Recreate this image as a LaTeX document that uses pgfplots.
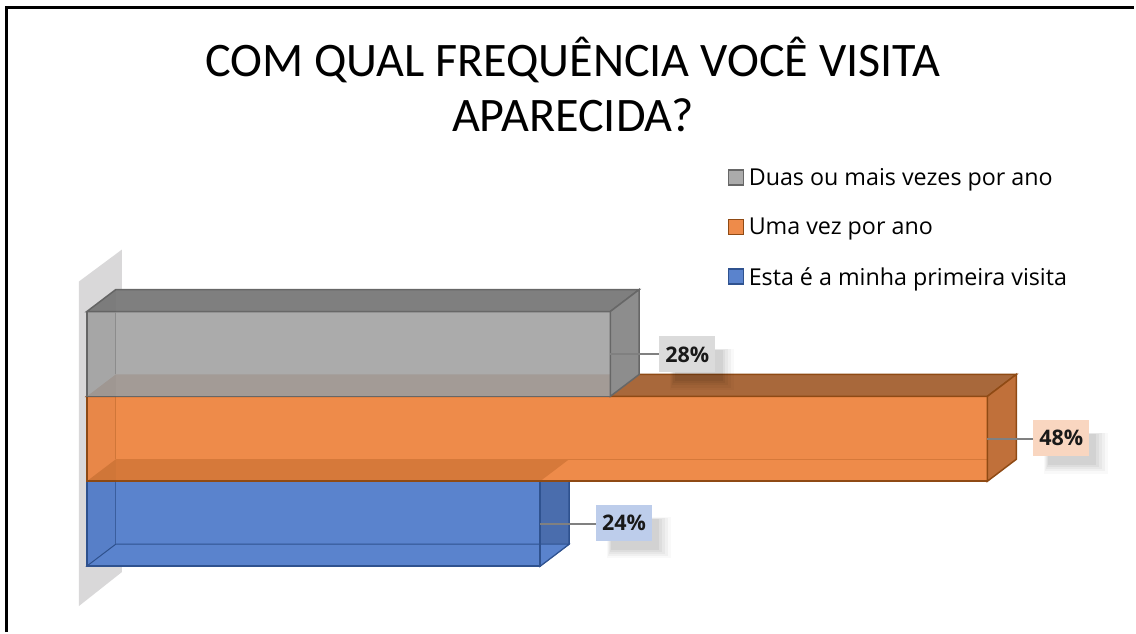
\documentclass[border=0pt]{standalone}
\usepackage{pgfplots}
\pgfplotsset{compat=1.18}
\usepackage{fontspec}
\setmainfont{Open Sans}
\newfontfamily\titlefont{Carlito}
\usetikzlibrary{shadows}
\definecolor{grayF}{HTML}{ABABAB}
\definecolor{grayT}{HTML}{7F7F7F}
\definecolor{grayS}{HTML}{8D8D8D}
\definecolor{grayB}{HTML}{A39B96}
\definecolor{grayE}{HTML}{676767}
\definecolor{oraF}{HTML}{EE8B4A}
\definecolor{oraT}{HTML}{A8683B}
\definecolor{oraS}{HTML}{C0703A}
\definecolor{oraB}{HTML}{D6793A}
\definecolor{oraE}{HTML}{8F4A14}
\definecolor{bluF}{HTML}{5A83CD}
\definecolor{bluS}{HTML}{4A6DAD}
\definecolor{bluE}{HTML}{2F528F}
\definecolor{wallc}{HTML}{D9D8D9}
\tikzset{lab/.style={font=\fontsize{21.5}{21.5}\selectfont\bfseries,text=black!90,minimum width=56pt,minimum height=36pt,inner sep=0pt,
  drop shadow={shadow xshift=13pt,shadow yshift=-13pt,shadow scale=1.14,opacity=.025,fill=black},
  drop shadow={shadow xshift=13pt,shadow yshift=-13pt,shadow scale=1.07,opacity=.035,fill=black},
  drop shadow={shadow xshift=13pt,shadow yshift=-13pt,shadow scale=1.0,opacity=.04,fill=black},
  drop shadow={shadow xshift=13pt,shadow yshift=-13pt,shadow scale=.93,opacity=.045,fill=black},
  drop shadow={shadow xshift=13pt,shadow yshift=-13pt,shadow scale=.86,opacity=.05,fill=black}}}
\pgfplotsset{sq/.style={legend image code/.code={\draw[##1,line width=1.4pt] (0,-7pt) rectangle (15pt,8pt);}}}
\begin{document}
\begin{tikzpicture}
\begin{axis}[
  scale only axis, width=1136pt, height=633pt,
  xmin=-4.630, xmax=55.83, ymin=-1.2765, ymax=6.1706,
  hide axis, clip=false,
  bar width=1,
  title={COM QUAL FREQUÊNCIA VOCÊ VISITA\\APARECIDA?},
  title style={at={(axis cs:25.9,5.67)},anchor=north,align=center,inner sep=0pt,
    font=\titlefont\fontsize{48.2}{56}\selectfont},
  reverse legend,
  legend style={at={(axis cs:34.16,4.185)},anchor=north west,draw=none,fill=none,
    font=\fontsize{23.3}{27}\selectfont,row sep=31pt,inner sep=0pt,
    /tikz/every even column/.append style={column sep=0pt},
    nodes={inner xsep=4.5pt,inner ysep=0pt}},
  legend cell align=left,
]
% wall
\addplot[fill=wallc,draw=none,forget plot] coordinates {(-0.426,2.853)(1.863,3.229)(1.863,-0.571)(-0.426,-0.971)} -- cycle;

% blue: 24%
\addplot[xbar,sq,fill=bluF,draw=bluE,line width=1.5pt] coordinates {(24.16,0)};
\addlegendentry{Esta é a minha primeira visita}
\addplot[fill=bluS,draw=bluE,line width=1.5pt,forget plot] coordinates {(24.16,0.5)(25.703,0.759)(25.703,-0.241)(24.16,-0.5)} -- cycle;
\addplot[fill=bluF,draw=bluE,line width=1pt,forget plot] coordinates {(0,-0.5)(1.543,-0.241)(25.703,-0.241)(24.16,-0.5)} -- cycle;
\addplot[draw=bluE!70!bluF,line width=1pt,forget plot] coordinates {(1.543,-0.241)(1.543,0.5)};
\addplot[draw=bluE,line width=1.5pt,forget plot] coordinates {(0,-0.5)(24.16,-0.5)(24.16,0.5)};

% orange: 48%
\addplot[xbar,sq,fill=oraF,draw=oraE,line width=1.5pt] coordinates {(48,1)};
\addlegendentry{Uma vez por ano}
\addplot[fill=oraB,draw=none,forget plot] coordinates {(0,0.5)(1.543,0.759)(25.703,0.759)(24.16,0.5)} -- cycle;
\addplot[draw=oraB,line width=1pt,forget plot] coordinates {(1.543,0.759)(49.543,0.759)};
\addplot[draw=oraB,line width=1pt,forget plot] coordinates {(1.543,0.759)(1.543,1.5)};
\addplot[fill=oraT,draw=oraE,line width=1.5pt,forget plot] coordinates {(0,1.5)(1.543,1.759)(49.543,1.759)(48,1.5)} -- cycle;
\addplot[fill=oraS,draw=oraE,line width=1.5pt,forget plot] coordinates {(48,1.5)(49.543,1.759)(49.543,0.759)(48,0.5)} -- cycle;
\addplot[draw=oraE,line width=1.5pt,forget plot] coordinates {(0,0.5)(48,0.5)};

% gray: 28%
\addplot[xbar,sq,fill=grayF,draw=grayE,line width=1.5pt] coordinates {(27.9,2)};
\addlegendentry{Duas ou mais vezes por ano}
\addplot[fill=grayB,draw=none,forget plot] coordinates {(0,1.5)(1.543,1.759)(29.443,1.759)(27.9,1.5)} -- cycle;
\addplot[fill=grayT,draw=grayE,line width=1.5pt,forget plot] coordinates {(0,2.5)(1.543,2.759)(29.443,2.759)(27.9,2.5)} -- cycle;
\addplot[fill=grayS,draw=grayE,line width=1.5pt,forget plot] coordinates {(27.9,2.5)(29.443,2.759)(29.443,1.759)(27.9,1.5)} -- cycle;
\addplot[draw=grayE!40!grayF,line width=1pt,forget plot] coordinates {(1.543,1.759)(1.543,2.5)};
\addplot[draw=grayE,line width=1.5pt,forget plot] coordinates {(0,1.5)(27.9,1.5)};

% left faces: the wall shows through the bars
\addplot[fill=black,fill opacity=.025,draw=none,forget plot] coordinates {(0,-0.5)(1.543,-0.241)(1.543,2.759)(0,2.5)} -- cycle;

% leaders and labels
\addplot[draw=gray,line width=1.8pt,forget plot] coordinates {(27.9,2)(30.49,2)};
\addplot[draw=gray,line width=1.8pt,forget plot] coordinates {(48,1)(50.45,1)};
\addplot[draw=gray,line width=1.8pt,forget plot] coordinates {(24.16,0)(27.14,0)};
\node[lab,fill=black!14] at (axis cs:32.01,1.994) {28\%};
\node[lab,fill=oraF!35!white] at (axis cs:51.94,1.006) {48\%};
\node[lab,fill=bluF!40!white] at (axis cs:28.63,0.006) {24\%};

% frame
\draw[black,line width=3.5pt] (axis cs:-4.284,-1.2765) -- (axis cs:-4.284,6.083) -- (axis cs:55.83,6.083);
\end{axis}
\path (0,0) rectangle (1136pt,633pt);
\end{tikzpicture}
\end{document}
